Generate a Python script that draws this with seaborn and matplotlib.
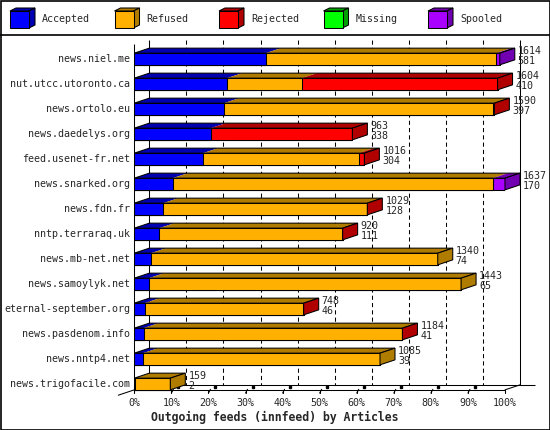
import matplotlib
matplotlib.use('Agg')
import matplotlib.pyplot as plt
import seaborn as sns
from matplotlib.patches import Polygon, Rectangle

servers = ['news.niel.me', 'nut.utcc.utoronto.ca', 'news.ortolo.eu', 'news.daedelys.org',
           'feed.usenet-fr.net', 'news.snarked.org', 'news.fdn.fr', 'nntp.terraraq.uk',
           'news.mb-net.net', 'news.samoylyk.net', 'eternal-september.org',
           'news.pasdenom.info', 'news.nntp4.net', 'news.trigofacile.com']
totals = [1614, 1604, 1590, 963, 1016, 1637, 1029, 920, 1340, 1443, 748, 1184, 1085, 159]
accepted = [581, 410, 397, 338, 304, 170, 128, 111, 74, 65, 46, 41, 39, 2]
refused = [1018, 330, 1189, 0, 688, 1414, 898, 807, 1266, 1378, 701, 1142, 1046, 157]
rejected = [0, 864, 4, 625, 24, 0, 3, 2, 0, 0, 1, 1, 0, 0]
missing = [0, 0, 0, 0, 0, 0, 0, 0, 0, 0, 0, 0, 0, 0]
spooled = [15, 0, 0, 0, 0, 53, 0, 0, 0, 0, 0, 0, 0, 0]

series = ['Accepted', 'Refused', 'Rejected', 'Missing', 'Spooled']
fronts = ['#0000ff', '#ffb000', '#ff0000', '#00ff00', '#aa00ff']
darks = ['#0000b0', '#b07c00', '#b00000', '#00a000', '#7000b0']
ticks = ['0%', '10%', '20%', '30%', '40%', '50%', '60%', '70%', '80%', '90%', '100%']
xlabel = 'Outgoing feeds (innfeed) by Articles'

sns.set_style('white')
plt.rcParams['font.family'] = ['DejaVu Sans Mono']
FS = 7.2
LW = 0.75

fig = plt.figure(figsize=(5.5, 4.3), dpi=100)

# pixel-space background axes for frame and legend
bg = fig.add_axes([0, 0, 1, 1])
bg.set_xlim(0, 550)
bg.set_ylim(430, 0)
bg.set_axis_off()
bg.add_patch(Rectangle((0.5, 0.5), 549, 429, fill=False, ec='black', lw=1.2))
bg.plot([0, 550], [35, 35], color='black', lw=1.2)
for k, (name, fc, dc) in enumerate(zip(series, fronts, darks)):
    x0 = 10 + k * 104.5
    bg.add_patch(Polygon([(x0, 11), (x0 + 19, 11), (x0 + 25, 8), (x0 + 6, 8)],
                         fc=dc, ec='black', lw=LW))
    bg.add_patch(Polygon([(x0 + 19, 11), (x0 + 25, 8), (x0 + 25, 25), (x0 + 19, 28)],
                         fc=dc, ec='black', lw=LW))
    bg.add_patch(Rectangle((x0, 11), 19, 17, fc=fc, ec='black', lw=LW))
    bg.text(x0 + 32, 19.5, name, fontsize=FS, va='center', ha='left')

# main axes: x in articles, y in rows
n = len(servers)
xmax = max(totals)
ax = fig.add_axes([134.3 / 550, (430 - 396.5) / 430, 370.7 / 550, 350 / 430])
PX = xmax / 370.7          # articles per pixel
DX = 15 * PX               # depth offset (x)
DY = 0.2                   # depth offset (rows)
H = 0.468                  # bar front height (rows)

segs = [accepted, refused, rejected, missing, spooled]

# stacked fronts drawn largest cumulative first
for j in reversed(range(len(segs))):
    cum = [sum(s[i] for s in segs[:j + 1]) for i in range(n)]
    sns.barplot(x=cum, y=servers, color=fronts[j], saturation=1, edgecolor='black',
                linewidth=LW, width=H, orient='y', errorbar=None, ax=ax, zorder=3)

ax.set_xlim(0, xmax)
ax.set_ylim(n - 0.5, -0.5)
ax.set_axis_off()

# back wall and grid
top_row = -0.76
floor_front = n - 1 + H / 2
floor_back = floor_front - DY
grid_x = [xmax * k / 10 + DX for k in range(1, 10)]
ax.vlines(grid_x, top_row, floor_back, colors='black', lw=LW,
          linestyles=(0, (4, 3)), zorder=2, clip_on=False)
ax.vlines([DX, xmax + DX], top_row, floor_back, colors='black', lw=LW, zorder=2, clip_on=False)
ax.vlines([0], -0.6, floor_front + 0.13, colors='black', lw=LW, zorder=5, clip_on=False)

# floor
ax.hlines([floor_back], DX, xmax + DX + 15 * PX, colors='black', lw=LW, zorder=2, clip_on=False)
ax.hlines([floor_front], 0, xmax, colors='black', lw=LW, zorder=2, clip_on=False)
ax.plot([xmax, xmax + DX], [floor_front, floor_back], color='black', lw=LW, zorder=2, clip_on=False)
ax.plot([-16 * PX, DX], [floor_front + DY * 16 / 15, floor_back], color='black', lw=LW,
        zorder=2, clip_on=False)
for k, lab in enumerate(ticks):
    xt = xmax * k / 10
    ax.plot([xt, xt], [floor_front, floor_front + 0.13], color='black', lw=LW, zorder=2, clip_on=False)
    if 0 < k < 10:
        ax.plot([xt, xt + 2 * PX], [floor_front + 0.13, floor_front - 0.02], color='black',
                lw=LW, zorder=2, clip_on=False)
        ax.plot([xt + 7 * PX], [floor_front - 0.1], marker='s', ms=2, color='black',
                zorder=2, clip_on=False)
    ax.text(xt, floor_front + 0.54, lab, fontsize=FS, ha='center', va='center', clip_on=False)
ax.text(xmax * 0.38, floor_front + 1.1, xlabel, fontsize=8.3, fontweight='bold',
        ha='center', va='center', clip_on=False)

# 3D tops and sides
for i in range(n):
    yt = i - H / 2
    yb = i + H / 2
    left = 0
    last = 0
    for j, s in enumerate(segs):
        w = s[i]
        if w <= 0:
            continue
        r = left + w
        ax.add_patch(Polygon([(left, yt), (r, yt), (r + DX, yt - DY), (left + DX, yt - DY)],
                             fc=darks[j], ec='none', zorder=4, clip_on=False))
        left = r
        last = j
    R = left
    ax.add_patch(Polygon([(0, yt), (R, yt), (R + DX, yt - DY), (DX, yt - DY)],
                         fill=False, ec='black', lw=LW, zorder=5, clip_on=False))
    ax.add_patch(Polygon([(R, yt), (R + DX, yt - DY), (R + DX, yb - DY), (R, yb)],
                         fc=darks[last], ec='black', lw=LW, zorder=5, clip_on=False))
    ax.text(R + DX + 3 * PX, i - 0.33, str(totals[i]), fontsize=FS, ha='left', va='center',
            zorder=6, clip_on=False)
    ax.text(R + DX + 3 * PX, i + 0.07, str(accepted[i]), fontsize=FS, ha='left', va='center',
            zorder=6, clip_on=False)
    ax.text(-4.3 * PX, i, servers[i], fontsize=FS, ha='right', va='center', clip_on=False)

fig.savefig('out.png', dpi=100)
